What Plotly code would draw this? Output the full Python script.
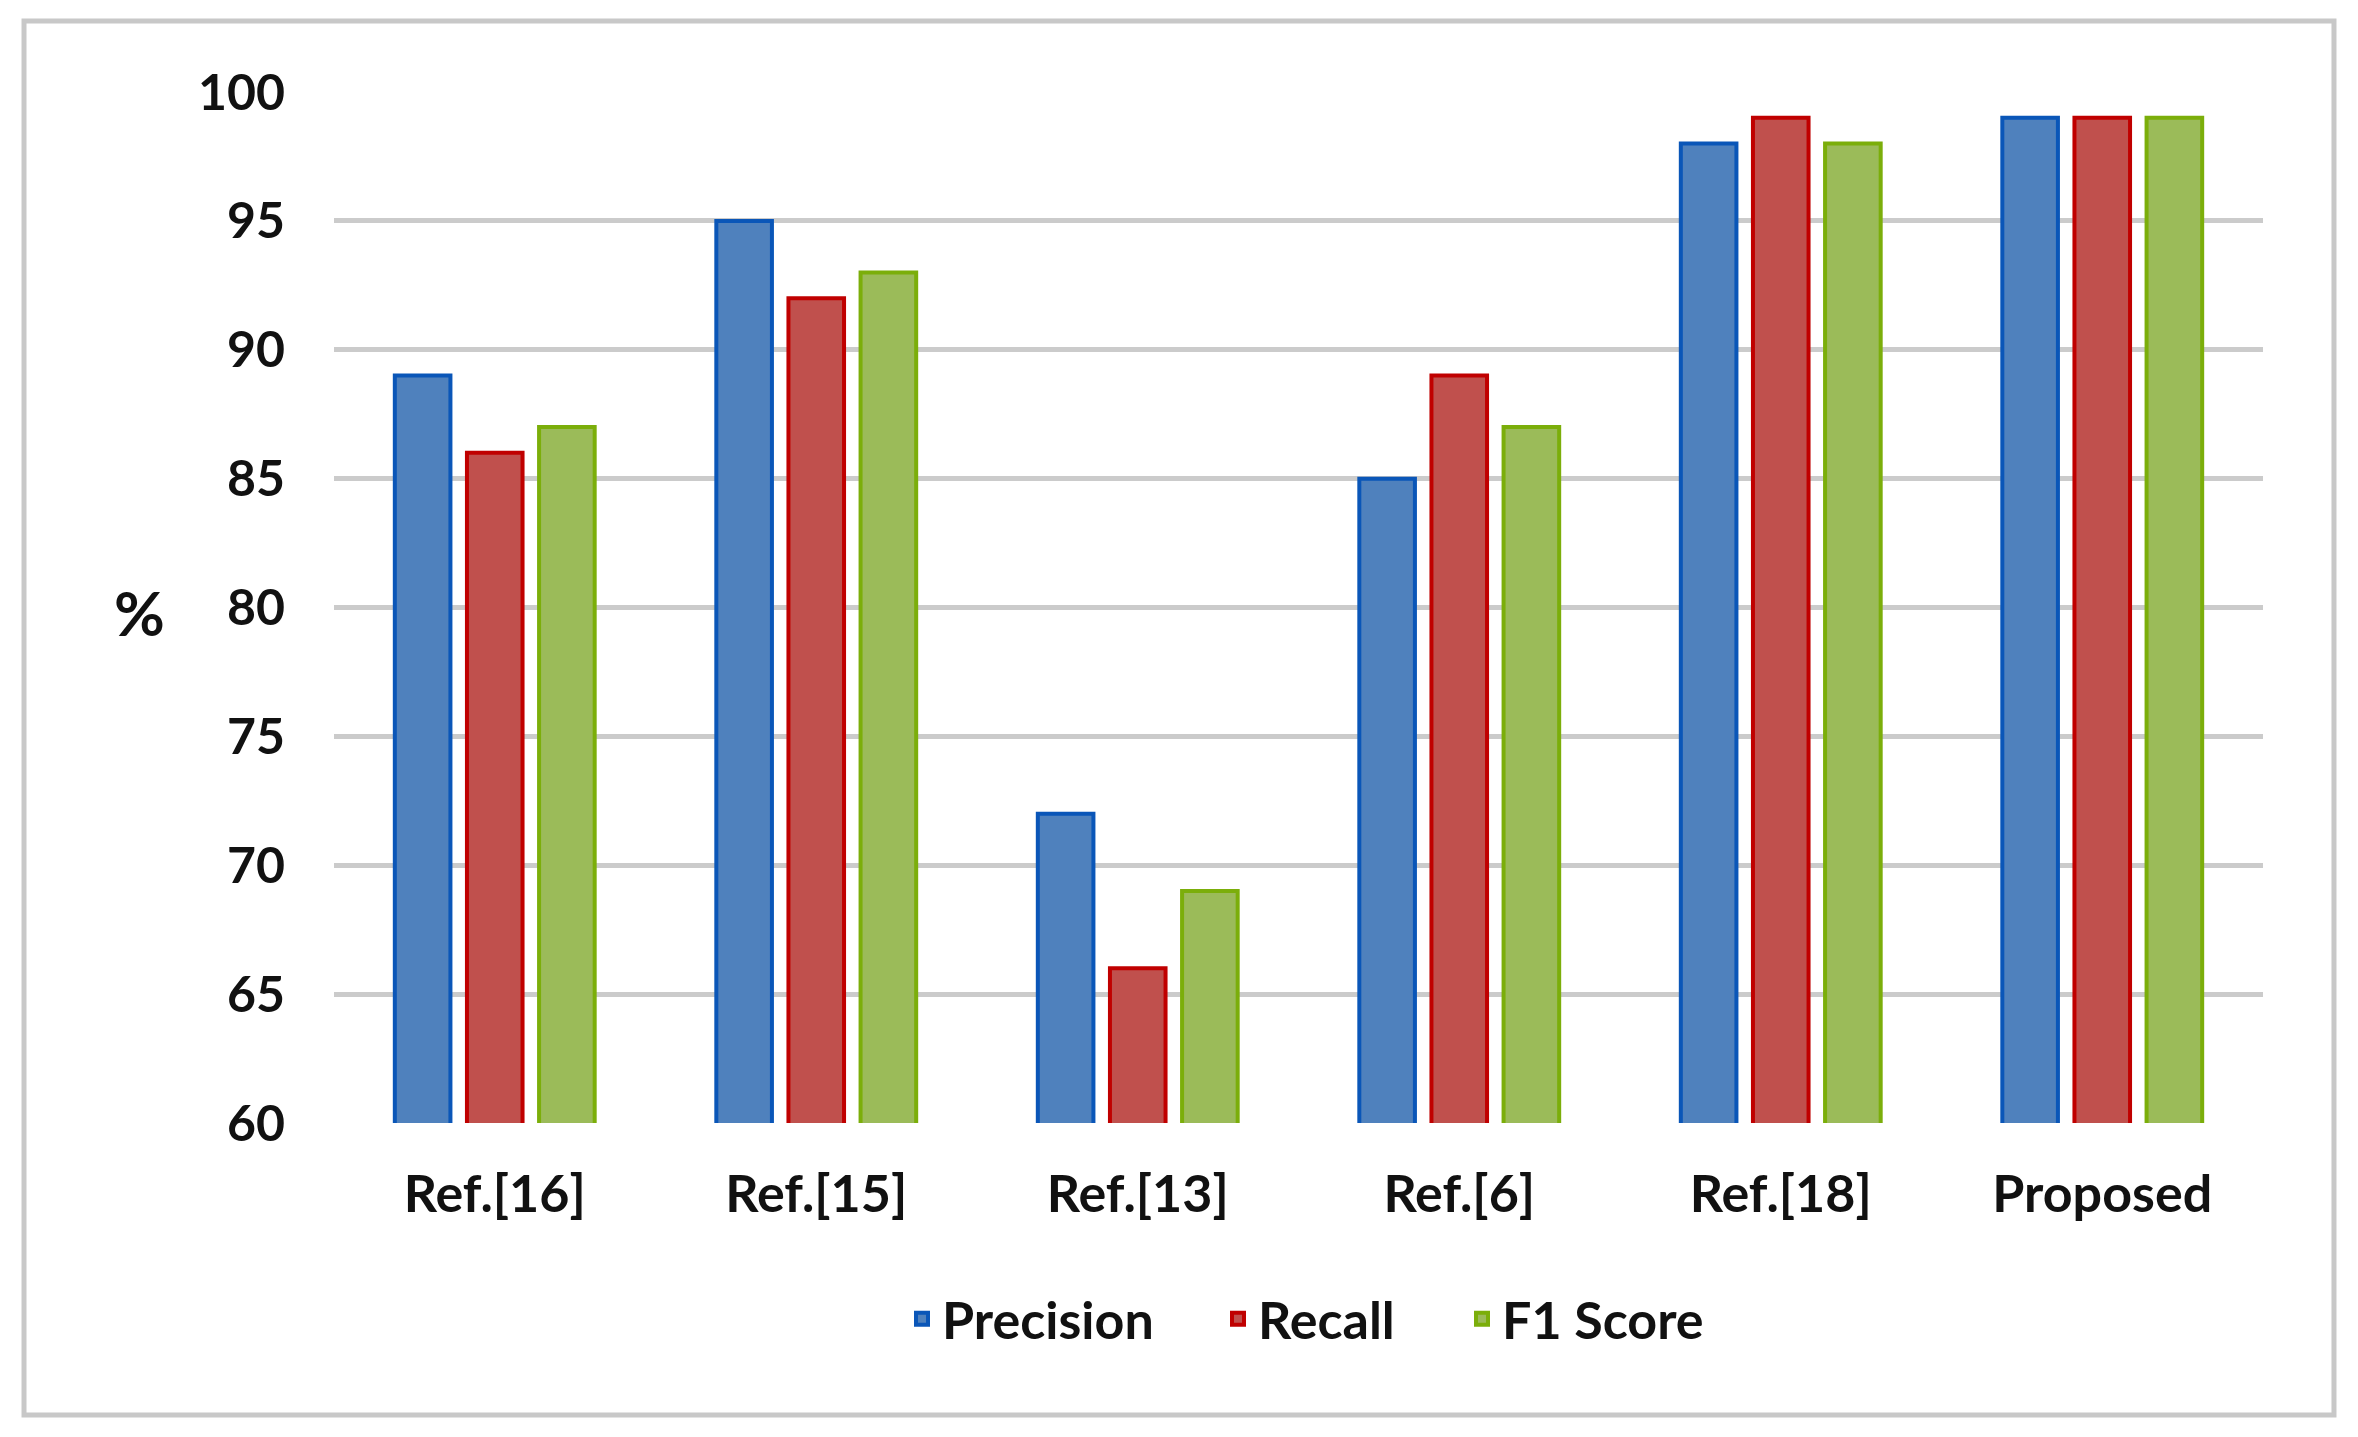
import plotly.graph_objects as go

categories = ["Ref.[16]", "Ref.[15]", "Ref.[13]", "Ref.[6]", "Ref.[18]", "Proposed"]
precision = [89, 95, 72, 85, 98, 99]
recall = [86, 92, 66, 89, 99, 99]
f1_score = [87, 93, 69, 87, 98, 99]
y_ticks = [60, 65, 70, 75, 80, 85, 90, 95, 100]

FONT = "Lato"
PLOT_L, PLOT_W = 326, 1929

fig = go.Figure()
series = [
    ("Precision", precision, "#4F81BD", "#0A56B8", "legend", 902),
    ("Recall", recall, "#C0504D", "#C00000", "legend2", 1218),
    ("F1 Score", f1_score, "#9BBB59", "#7BAE0A", "legend3", 1462),
]
legends = {}
for name, vals, fill, line, lg, icon_left in series:
    fig.add_trace(go.Bar(
        name=name, x=categories, y=vals, legend=lg,
        marker=dict(color=fill, line=dict(color=line, width=4)),
    ))
    legends[lg] = dict(orientation="h", x=(icon_left - 8 - PLOT_L) / PLOT_W, xanchor="left",
                       y=-0.19, yanchor="middle", bgcolor="rgba(0,0,0,0)",
                       font=dict(family=FONT, size=52, color="#111111", weight="bold"),
                       itemwidth=30)

fig.update_layout(
    width=2350, height=1429,
    paper_bgcolor="white", plot_bgcolor="white",
    margin=dict(l=PLOT_L, r=95, t=84, b=314),
    barmode="group", bargap=0.327, bargroupgap=0.229,
    font=dict(family=FONT, size=46, color="#111111"),
    showlegend=True,
    xaxis=dict(showgrid=False, zeroline=False, showline=False, ticks="",
               tickfont=dict(family=FONT, size=52, color="#111111", weight="bold"),
               ticklabelstandoff=36),
    yaxis=dict(range=[60, 100], tickvals=y_ticks, showgrid=True, gridcolor="#CBCBCB",
               gridwidth=5, zeroline=False, showline=False, ticks="",
               tickfont=dict(family=FONT, size=50, color="#111111", weight="bold"),
               ticklabelstandoff=48),
    shapes=[dict(type="rect", xref="paper", yref="paper",
                 x0=-0.1607, x1=1.0368, y0=-0.2832, y1=1.0689,
                 line=dict(color="#C8C8C8", width=5), fillcolor="rgba(0,0,0,0)")],
    annotations=[dict(text="%", xref="paper", yref="paper", x=-0.1006, y=0.4956,
                      showarrow=False, xanchor="center", yanchor="middle",
                      font=dict(family=FONT, size=62, color="#111111", weight="bold"))],
    **legends,
)

fig.write_html("out.html")
